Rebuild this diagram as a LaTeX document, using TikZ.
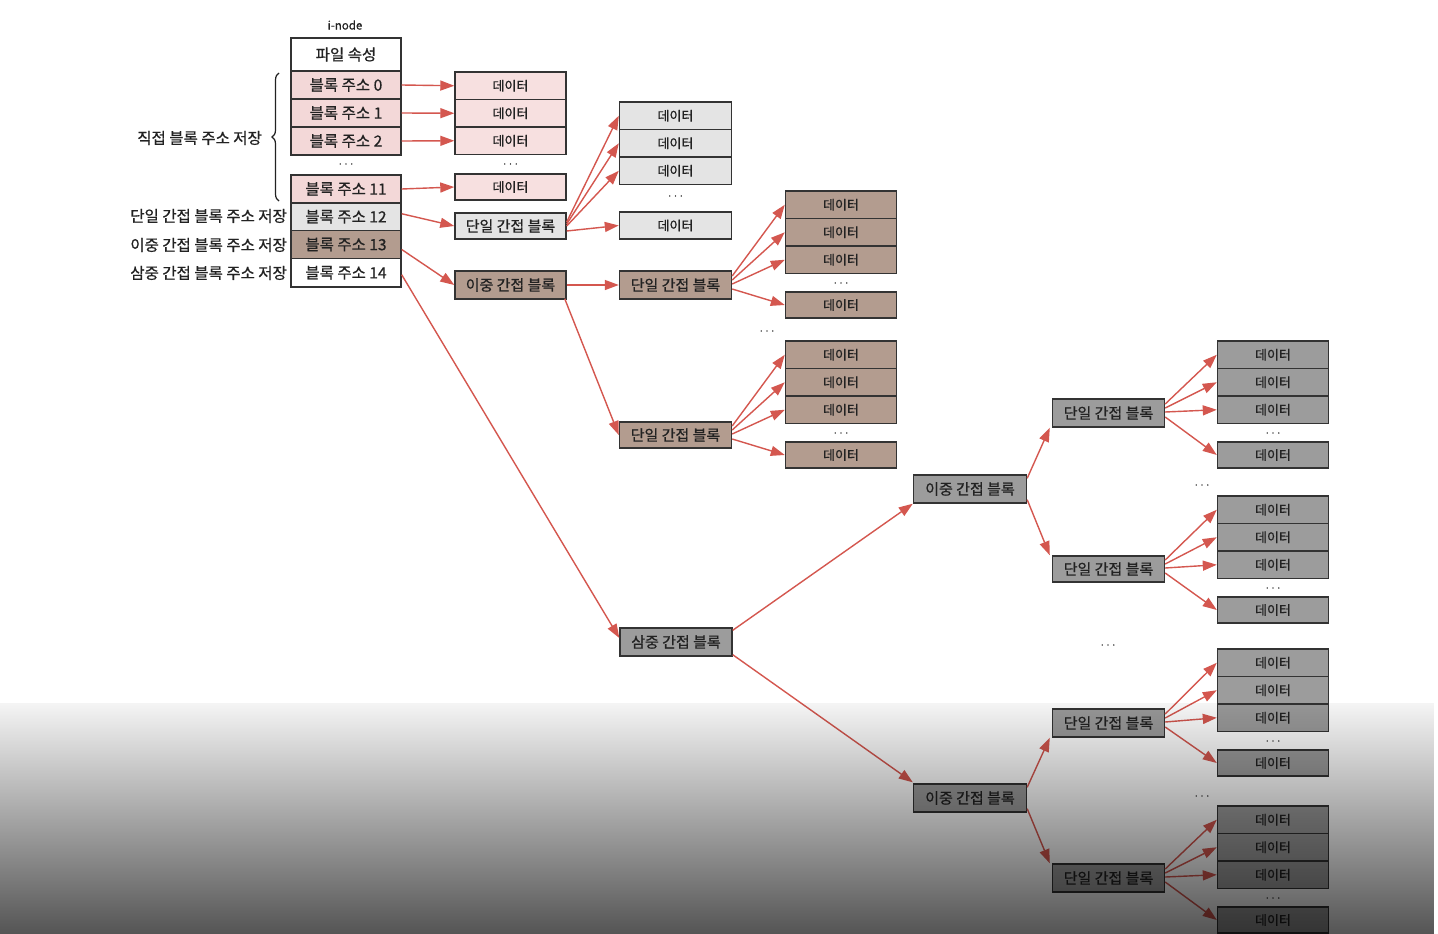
\documentclass[tikz,border=0pt]{standalone}
\usepackage{fontspec}
\setmainfont{Noto Sans CJK KR}[FakeBold=0.7]
\usetikzlibrary{arrows.meta,calc,decorations.pathreplacing,fadings}
\definecolor{pinkA}{HTML}{F3D8D8}
\definecolor{pinkB}{HTML}{F7E0E0}
\definecolor{lgrey}{HTML}{E4E4E4}
\definecolor{brownC}{HTML}{B39C8F}
\definecolor{greyD}{HTML}{9C9C9C}
\definecolor{arrowred}{HTML}{D4574F}
\definecolor{boxline}{HTML}{333333}
\definecolor{textc}{HTML}{222222}
\tikzfading[name=bottomdark, top color=transparent!96, middle color=transparent!70, bottom color=transparent!33]
\newcommand\dgroup[5]{%
  \node[dbox,fill=#4] (#1a) at (#2,#3+13.75) {데이터};
  \node[dbox,fill=#4] (#1b) at (#2,#3+41.25) {데이터};
  \node[dbox,fill=#4] (#1c) at (#2,#3+68.75) {데이터};
  \node[dots] (#1dots) at (#2,#3+92) {. . .};
  \node[dbox,fill=#4,minimum height=26pt] (#1d) at (#2,#3+114) {데이터};
  \draw[arr] ($(#5.east)+(0,-9)$) -- (#1a.west);
  \draw[arr] ($(#5.east)+(0,-5)$) -- (#1b.west);
  \draw[arr] ($(#5.east)+(0,-1)$) -- (#1c.west);
  \draw[arr] ($(#5.east)+(0,4)$) -- (#1d.west);
}
\begin{document}
\begin{tikzpicture}[x=1pt,y=-1pt,
  box/.style={draw=boxline, line width=1.4pt, rectangle, minimum width=111pt, inner sep=0pt, text=textc, font=\fontsize{15}{17}\selectfont},
  ibox/.style={box, minimum width=110pt, font=\fontsize{15.5}{17}\selectfont},
  dbox/.style={box, minimum height=27.5pt, font=\fontsize{13}{15}\selectfont},
  arr/.style={draw=arrowred, line width=1.4pt, -{Triangle[length=14pt,width=10pt]}},
  dots/.style={inner sep=0pt, text=textc, font=\fontsize{10}{12}\selectfont},
  side/.style={inner sep=0pt, anchor=east, text=textc, font=\fontsize{15.5}{17}\selectfont}]
\useasboundingbox (0,0) rectangle (1438,934);
\fill[white] (0,0) rectangle (1438,934);

% i-node
\node[inner sep=0pt, text=textc, font=\fontsize{11.5}{13}\selectfont] (inl) at (345,25) {i-node};
\node[ibox, fill=white, minimum height=33pt] (attr) at (346,54.5) {파일 속성};
\node[ibox, fill=pinkA, minimum height=28pt] (b0) at (346,85) {블록 주소 0};
\node[ibox, fill=pinkA, minimum height=28pt] (b1) at (346,113) {블록 주소 1};
\node[ibox, fill=pinkA, minimum height=28pt] (b2) at (346,141) {블록 주소 2};
\node[dots] (idots) at (346,164) {. . .};
\node[ibox, fill=pinkA, minimum height=28pt] (b11) at (346,189) {블록 주소 11};
\node[ibox, fill=lgrey, minimum height=27.5pt] (b12) at (346,216.75) {블록 주소 12};
\node[ibox, fill=brownC, minimum height=28pt] (b13) at (346,244.5) {블록 주소 13};
\node[ibox, fill=white, minimum height=28.5pt] (b14) at (346,272.75) {블록 주소 14};

% side labels
\coordinate (brtop) at (279,73);
\coordinate (brbot) at (279,201);
\draw[textc, line width=1.2pt, decorate, decoration={brace, amplitude=7pt}] (brbot) -- (brtop);
\node[side] (ldirect) at (262,138) {직접 블록 주소 저장};
\node[side] (lsingle) at (287,216) {단일 간접 블록 주소 저장};
\node[side] (ldouble) at (287,245) {이중 간접 블록 주소 저장};
\node[side] (ltriple) at (287,273) {삼중 간접 블록 주소 저장};

% column 1
\node[dbox, fill=pinkB] (c1a) at (510.5,85.75) {데이터};
\node[dbox, fill=pinkB] (c1b) at (510.5,113.25) {데이터};
\node[dbox, fill=pinkB] (c1c) at (510.5,140.75) {데이터};
\node[dots] (c1dots) at (510.5,164) {. . .};
\node[dbox, fill=pinkB, minimum height=26pt] (c1d) at (510.5,187) {데이터};
\node[box, fill=lgrey, minimum height=26pt] (c1s) at (510.5,226) {단일 간접 블록};
\node[box, fill=brownC, minimum height=28pt] (c1dd) at (510.5,285) {이중 간접 블록};

\draw[arr] (b0.east) -- (c1a.west);
\draw[arr] (b1.east) -- (c1b.west);
\draw[arr] (b2.east) -- (c1c.west);
\draw[arr] (b11.east) -- (c1d.west);
\draw[arr] ($(b12.east)+(0,-3)$) -- (c1s.west);
\draw[arr] ($(b13.east)+(0,5)$) -- (c1dd.west);

% column 2
\node[dbox, fill=lgrey, minimum width=112pt] (c2a) at (675.5,115.75) {데이터};
\node[dbox, fill=lgrey, minimum width=112pt] (c2b) at (675.5,143.25) {데이터};
\node[dbox, fill=lgrey, minimum width=112pt] (c2c) at (675.5,170.75) {데이터};
\node[dots] (c2dots) at (675.5,196) {. . .};
\node[dbox, fill=lgrey, minimum width=112pt, minimum height=27pt] (c2d) at (675.5,225.5) {데이터};
\node[box, fill=brownC, minimum width=112pt, minimum height=28pt] (c2s1) at (675.5,285) {단일 간접 블록};
\node[box, fill=brownC, minimum width=112pt, minimum height=26pt] (c2s2) at (675.5,435) {단일 간접 블록};
\node[box, fill=greyD, minimum width=112pt, minimum height=28pt] (c2t) at (676,642) {삼중 간접 블록};

\draw[arr] ($(c1s.east)+(0,-4)$) -- (c2a.west);
\draw[arr] ($(c1s.east)+(0,-2)$) -- (c2b.west);
\draw[arr] ($(c1s.east)+(0,0)$) -- (c2c.west);
\draw[arr] ($(c1s.east)+(0,5)$) -- (c2d.west);
\draw[arr] (c1dd.east) -- (c2s1.west);
\draw[arr] ($(c1dd.south east)+(-2,-1)$) -- (c2s2.west);
\draw[arr] ($(b14.east)+(0,2)$) -- ($(c2t.west)+(0,-4)$);

% column 3
\dgroup{ga}{841}{191}{brownC}{c2s1}
\node[dots] (c3dots) at (767,331) {. . .};
\dgroup{gb}{841}{341}{brownC}{c2s2}

% column 4 and 5
\node[box, fill=greyD, minimum width=113pt, minimum height=28pt] (d1) at (970,489) {이중 간접 블록};
\node[box, fill=greyD, minimum width=113pt, minimum height=28pt] (d2) at (970,798) {이중 간접 블록};
\node[box, fill=greyD, minimum width=112pt, minimum height=28pt] (s1) at (1108.5,413) {단일 간접 블록};
\node[box, fill=greyD, minimum width=112pt, minimum height=26pt] (s2) at (1108.5,569) {단일 간접 블록};
\node[box, fill=greyD, minimum width=112pt, minimum height=28pt] (s3) at (1108.5,723) {단일 간접 블록};
\node[box, fill=greyD, minimum width=112pt, minimum height=28pt] (s4) at (1108.5,878) {단일 간접 블록};
\node[dots] (c5dots) at (1108,645) {. . .};

\draw[arr] ($(c2t.north east)+(0,3)$) -- (d1.south west);
\draw[arr] ($(c2t.south east)+(0,-2)$) -- ($(d2.north west)+(0,-1)$);
\draw[arr] ($(d1.north east)+(0,4)$) -- ($(s1.south west)+(-2,0)$);
\draw[arr] ($(d1.south east)+(0,-4)$) -- ($(s2.north west)+(-2,0)$);
\draw[arr] ($(d2.north east)+(0,4)$) -- ($(s3.south west)+(-2,0)$);
\draw[arr] ($(d2.south east)+(0,-4)$) -- ($(s4.north west)+(-2,0)$);

% column 6
\dgroup{gc}{1273}{341}{greyD}{s1}
\node[dots] (c6dots1) at (1202,485) {. . .};
\dgroup{gd}{1273}{496}{greyD}{s2}
\dgroup{ge}{1273}{649}{greyD}{s3}
\node[dots] (c6dots2) at (1202,796) {. . .};
\dgroup{gf}{1273}{806}{greyD}{s4}

% bottom dark gradient of the screenshot
\fill[black, path fading=bottomdark] (0,703) rectangle (1438,934);
\end{tikzpicture}
\end{document}
